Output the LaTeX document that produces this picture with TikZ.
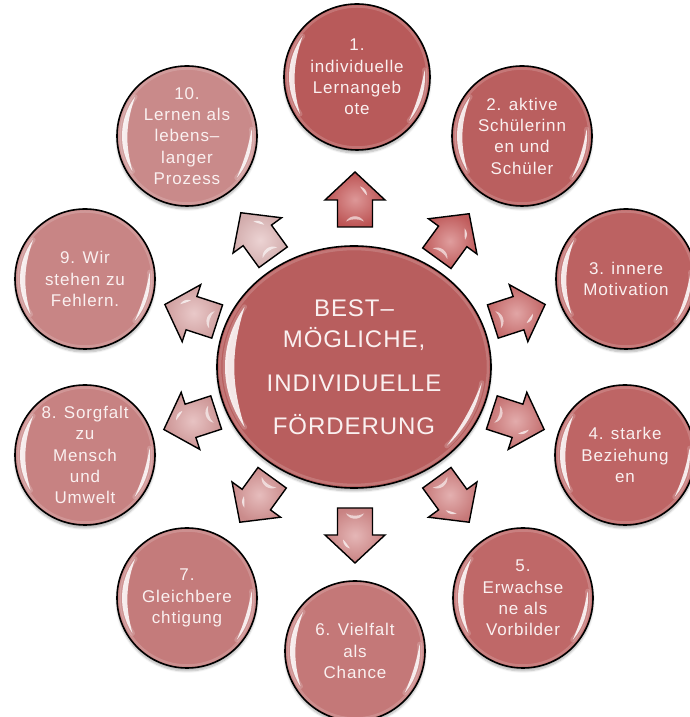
\documentclass[tikz,border=0pt]{standalone}
\usepackage{fontspec}
\setmainfont{Liberation Sans}[LetterSpace=5]
\newfontfamily\corefont{Liberation Sans}[LetterSpace=4]
\usetikzlibrary{shapes.geometric,shadows.blur}

% bubble fills, from the deep red of step 1 to the pale rose of step 10
\definecolor{txt}{RGB}{250,240,240}
\definecolor{corecol}{RGB}{184,94,94}
\definecolor{b1}{RGB}{184,90,90}
\definecolor{b2}{RGB}{186,95,95}
\definecolor{b3}{RGB}{188,98,98}
\definecolor{b4}{RGB}{190,101,101}
\definecolor{b5}{RGB}{191,104,104}
\definecolor{b6}{RGB}{196,120,120}
\definecolor{b7}{RGB}{196,123,123}
\definecolor{b8}{RGB}{199,130,130}
\definecolor{b9}{RGB}{200,133,133}
\definecolor{b10}{RGB}{201,138,138}
% block arrow fills
\definecolor{p1}{RGB}{200,88,88}
\definecolor{p2}{RGB}{204,98,98}
\definecolor{p3}{RGB}{207,110,110}
\definecolor{p4}{RGB}{209,120,120}
\definecolor{p5}{RGB}{211,128,128}
\definecolor{p6}{RGB}{213,138,138}
\definecolor{p7}{RGB}{215,148,148}
\definecolor{p8}{RGB}{217,158,158}
\definecolor{p9}{RGB}{220,168,168}
\definecolor{p10}{RGB}{224,184,184}

\tikzset{
  bubble/.style={circle, draw=black, line width=1.6pt, minimum size=140pt,
    inner sep=0pt, fill=#1, text=txt, align=center,
    font=\fontsize{17}{21.3}\selectfont,
    blur shadow={shadow xshift=0pt, shadow yshift=-3pt, shadow blur steps=6, shadow opacity=30}},
  halo/.style={white, line width=5pt, line cap=round, opacity=.18},
  rim/.style={white, line width=2.5pt, opacity=.16},
  pics/outarrow/.style={code={
    \shadedraw[draw=black, line width=1.4pt, line join=miter,
      inner color=#1!62!white, outer color=#1!94!black]
      (27.5,0) -- (-0.5,30) -- (-0.5,17.5) -- (-27.5,17.5)
      -- (-27.5,-17.5) -- (-0.5,-17.5) -- (-0.5,-30) -- cycle;
    \fill[white, opacity=.7] (4,-12) .. controls (9,-12) and (12,-9) .. (13,-5)
      .. controls (10,-7) and (7,-9) .. cycle;
    \fill[white, opacity=.6] (-22,-9) .. controls (-15,-5) and (-15,5) .. (-22,9)
      .. controls (-19,4) and (-19,-4) .. cycle;
  }},
}

% tapered glossy crescent: centre x, centre y, radius, start, end, bend back
\newcommand\crescent[6]{%
  \draw[halo] ([shift={(#4:#3)}]#1,#2) arc[start angle=#4, end angle=#5, radius=#3];
  \fill[white, opacity=.85] ([shift={(#4:#3)}]#1,#2)
    arc[start angle=#4, end angle=#5, radius=#3]
    to[#6] ([shift={(#4:#3)}]#1,#2) -- cycle;
}
% both crescents and the inner rim of a round bubble
\newcommand\bubbleshine[3]{%
  \draw[rim] (#1,#2) circle[radius=#3+2.5];
  \crescent{#1}{#2}{#3}{143}{213}{bend left=17}
  \crescent{#1}{#2}{#3}{6}{-40}{bend right=6}
}

\begin{document}
\begin{tikzpicture}[x=1pt, y=1pt]
\useasboundingbox (0,0) rectangle (690,717);

% central goal
\node[ellipse, draw=black, line width=1.6pt, fill=corecol, minimum width=274pt,
  minimum height=242pt, inner sep=0pt, text=txt, align=center,
  font=\corefont\fontsize{24}{31}\selectfont,
  blur shadow={shadow xshift=0pt, shadow yshift=-3pt, shadow blur steps=6, shadow opacity=30}]
  (core) at (354,350) {BEST–\\MÖGLICHE,\\[13pt]INDIVIDUELLE\\[12pt]FÖRDERUNG};
\begin{scope}[shift={(354,350)}, yscale=0.88]
  \draw[rim] (0,0) circle[radius=134];
  \crescent{0}{0}{129}{148}{212}{bend left=15}
  \crescent{0}{0}{129}{-8}{-44}{bend right=6}
\end{scope}

% the ten principles
\node[bubble=b1, minimum size=146pt] (c1) at (357,640) {1.\\individuelle\\Lernangeb\\ote};
\node[bubble=b2] (c2) at (522,581) {2. aktive\\Schülerinn\\en und\\Schüler};
\node[bubble=b3] (c3) at (626,438) {3. innere\\Motivation};
\node[bubble=b4] (c4) at (625,262) {4. starke\\Beziehung\\en};
\node[bubble=b5] (c5) at (523,119) {5.\\Erwachse\\ne als\\Vorbilder};
\node[bubble=b6] (c6) at (355,66) {6. Vielfalt\\als\\Chance};
\node[bubble=b7] (c7) at (187,119) {7.\\Gleichbere\\chtigung};
\node[bubble=b8] (c8) at (85,262) {8. Sorgfalt\\zu\\Mensch\\und\\Umwelt};
\node[bubble=b9] (c9) at (85,438) {9. Wir\\stehen zu\\Fehlern.};
\node[bubble=b10] (c10) at (187,581) {10.\\Lernen als\\lebens–\\langer\\Prozess};

\bubbleshine{357}{640}{68}
\bubbleshine{522}{581}{65}
\bubbleshine{626}{438}{65}
\bubbleshine{625}{262}{65}
\bubbleshine{523}{119}{65}
\bubbleshine{355}{66}{65}
\bubbleshine{187}{119}{65}
\bubbleshine{85}{262}{65}
\bubbleshine{85}{438}{65}
\bubbleshine{187}{581}{65}

% block arrows pointing outwards from the centre
\pic (a1) [rotate=90] at (355,517.5) {outarrow=p1};
\pic (a2) [rotate=54] at (453,481) {outarrow=p2};
\pic (a3) [rotate=18] at (519,404) {outarrow=p3};
\pic (a4) [rotate=-18] at (518,296) {outarrow=p4};
\pic (a5) [rotate=-54] at (453,217) {outarrow=p5};
\pic (a6) [rotate=-90] at (355,181.5) {outarrow=p6};
\pic (a7) [rotate=-126] at (256,217) {outarrow=p7};
\pic (a8) [rotate=-162] at (190,296) {outarrow=p8};
\pic (a9) [rotate=162] at (191,404) {outarrow=p9};
\pic (a10) [rotate=126] at (257,482) {outarrow=p10};
\end{tikzpicture}
\end{document}
